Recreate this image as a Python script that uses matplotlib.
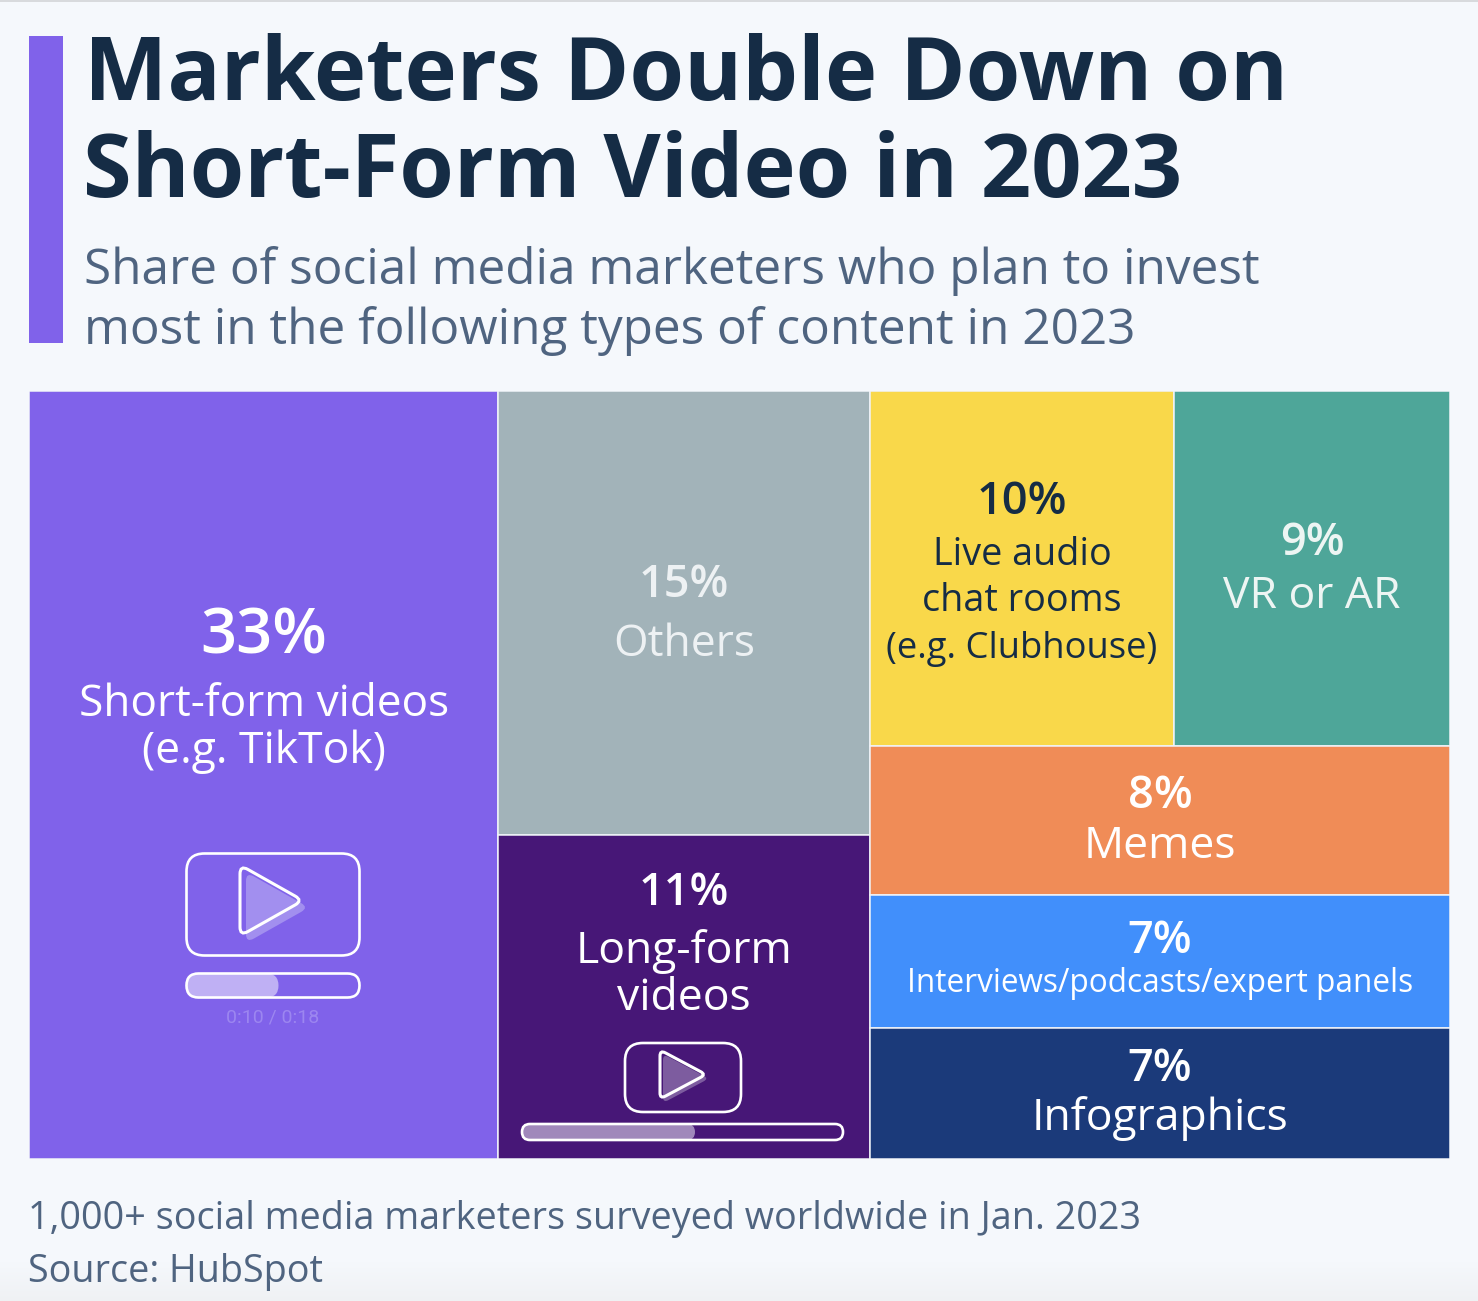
import matplotlib
matplotlib.use("Agg")
import matplotlib.pyplot as plt
import numpy as np
from matplotlib.patches import FancyBboxPatch, PathPatch, Rectangle
from matplotlib.path import Path

W, H = 1478, 1301
BG = "#F5F8FC"
plt.rcParams["font.family"] = ["Open Sans", "DejaVu Sans"]

# columns of the treemap, each column is a list of rows, each row a list of cells
# areas are the shares as they measure on the picture, before rounding to the printed labels
columns = [
    [[("Short-form videos", 33.0, "#8062EA")]],
    [[("Others", 15.15, "#A2B3B9")], [("Long-form videos", 11.05, "#471777")]],
    [
        [("Live audio chat rooms", 9.88, "#F9D84A"), ("VR or AR", 8.97, "#4EA699")],
        [("Memes", 7.94, "#F08C57")],
        [("Interviews", 7.08, "#418FFB")],
        [("Infographics", 6.93, "#1B3A7A")],
    ],
]

# label, x centre, baseline y, size, weight, colour
labels = [
    ("33%", 264, 654, 45.5, 600, "white"),
    ("Short-form videos", 264, 716, 31.8, "normal", "white"),
    ("(e.g. TikTok)", 264, 763, 32, "normal", "white"),
    ("15%", 684, 597, 32.5, 600, "#EDF1F3"),
    ("Others", 684, 656, 32, "normal", "#EDF1F3"),
    ("11%", 684, 905, 32.5, 600, "white"),
    ("Long-form", 684, 963, 32, "normal", "white"),
    ("videos", 684, 1010, 32, "normal", "white"),
    ("10%", 1022, 514, 32.5, 600, "#152C45"),
    ("Live audio", 1022, 565, 27.2, "normal", "#152C45"),
    ("chat rooms", 1022, 611, 27.2, "normal", "#152C45"),
    ("(e.g. Clubhouse)", 1022, 658, 26.2, "normal", "#152C45"),
    ("9%", 1312, 555, 32.5, 600, "#EDF5F3"),
    ("VR or AR", 1312, 608, 32, "normal", "#EDF5F3"),
    ("8%", 1160, 808, 32.5, 600, "white"),
    ("Memes", 1160, 858, 32, "normal", "white"),
    ("7%", 1160, 953, 32.5, 600, "white"),
    ("Interviews/podcasts/expert panels", 1160, 992, 22.7, "normal", "white"),
    ("7%", 1160, 1081, 32.5, 600, "white"),
    ("Infographics", 1160, 1130, 32, "normal", "white"),
]

fig = plt.figure(figsize=(W / 100, H / 100), dpi=100, facecolor=BG)

# treemap axes, one percent of the total is one unit of area
ax = fig.add_axes([29 / W, 1 - 1158.5 / H, 1420.5 / W, 767.3 / H])
ax.set_xlim(0, 100)
ax.set_ylim(100, 0)
ax.axis("off")

x0 = 0
for column in columns:
    col_w = sum(v for row in column for _, v, _ in row)
    y0 = 0
    for row in column:
        row_total = sum(v for _, v, _ in row)
        row_h = 100 * row_total / col_w
        cell_x = x0
        for name, value, color in row:
            cell_w = col_w * value / row_total
            ax.add_patch(Rectangle((cell_x, y0), cell_w, row_h, facecolor=color,
                                   edgecolor="#F0F3F8", linewidth=1.1))
            cell_x += cell_w
        y0 += row_h
    x0 += col_w

# pixel overlay for the texts and the icons
ov = fig.add_axes([0, 0, 1, 1], zorder=5)
ov.axis("off")
ov.patch.set_alpha(0)

ov.add_patch(Rectangle((0, 0), W, 1.5, facecolor="#D8DADD", edgecolor="none"))
ov.add_patch(Rectangle((29, 36), 34, 307, facecolor="#8062EA", edgecolor="none"))

# faint darker band at the bottom edge
band = np.ones((40, 1, 4))
band[..., :3] = 0.9
band[:, 0, 3] = np.linspace(0, 0.35, 40)
ov.imshow(band, extent=(0, W, H, H - 40), aspect="auto", zorder=0)
ov.set_xlim(0, W)
ov.set_ylim(H, 0)

ov.text(84.5, 100, "Marketers Double Down on", fontsize=63.6, fontweight="bold", color="#152C45", va="baseline")
ov.text(83, 197, "Short-Form Video in 2023", fontsize=63.5, fontweight="bold", color="#152C45", va="baseline")
ov.text(84, 283.5, "Share of social media marketers who plan to invest", fontsize=35.62, color="#4F6480", va="baseline")
ov.text(84, 344, "most in the following types of content in 2023", fontsize=35.62, color="#4F6480", va="baseline")
ov.text(28.5, 1229, "1,000+ social media marketers surveyed worldwide in Jan. 2023", fontsize=27.22, color="#4F6480", va="baseline")
ov.text(28.5, 1282, "Source: HubSpot", fontsize=27.22, color="#4F6480", va="baseline")

for text, x, y, size, weight, color in labels:
    ov.text(x, y, text, fontsize=size, fontweight=weight, color=color, ha="center", va="baseline")


def rounded(x, y, w, h, r, **kw):
    ov.add_patch(FancyBboxPatch((x + r, y + r), w - 2 * r, h - 2 * r,
                                boxstyle="round,pad=%f,rounding_size=%f" % (r, r), **kw))


def rounded_triangle(x, y, w, h, r, **kw):
    pts = np.array([(x, y), (x + w, y + h / 2), (x, y + h)], dtype=float)
    verts, codes = [], []
    for i in range(3):
        prev_p, p, next_p = pts[i - 1], pts[i], pts[(i + 1) % 3]
        a = p + (prev_p - p) / np.linalg.norm(prev_p - p) * r
        b = p + (next_p - p) / np.linalg.norm(next_p - p) * r
        verts += [a, p, b]
        codes += [Path.MOVETO if i == 0 else Path.LINETO, Path.CURVE3, Path.CURVE3]
    verts.append(verts[0])
    codes.append(Path.CLOSEPOLY)
    ov.add_patch(PathPatch(Path(verts, codes), **kw))


def video_icon(box, box_r, tri, tri_r, shadow_off, bar, fill_w, fill_color, shadow_color):
    rounded(*box, box_r, facecolor="none", edgecolor="white", linewidth=1.9)
    tx, ty, tw, th = tri
    rounded_triangle(tx + shadow_off[0], ty + shadow_off[1], tw, th, tri_r, facecolor=shadow_color, edgecolor="none")
    rounded_triangle(tx, ty, tw, th, tri_r, facecolor="none", edgecolor="white", linewidth=2.2)
    bx, by, bw, bh = bar
    rounded(bx, by, fill_w, bh, bh / 2, facecolor=fill_color, edgecolor="none")
    rounded(bx, by, bw, bh, bh / 2, facecolor="none", edgecolor="white", linewidth=1.9)


video_icon((186.5, 853.5, 173, 102), 18, (240, 865, 63, 71), 9, (6, 7), (186.5, 973.5, 173, 24), 92, "#BFB0F4", "#A28FEF")
ov.text(272.5, 1022, "0:10 / 0:18", fontsize=14, color="#9C86F0", ha="center", va="baseline", family="Roboto")
video_icon((625, 1043, 116, 69), 18, (660, 1050, 46, 49), 6, (3, 4), (522, 1124, 321, 16), 173, "#A088BB", "#7D5C9F")

fig.savefig("out.png", dpi=100, facecolor=BG)
